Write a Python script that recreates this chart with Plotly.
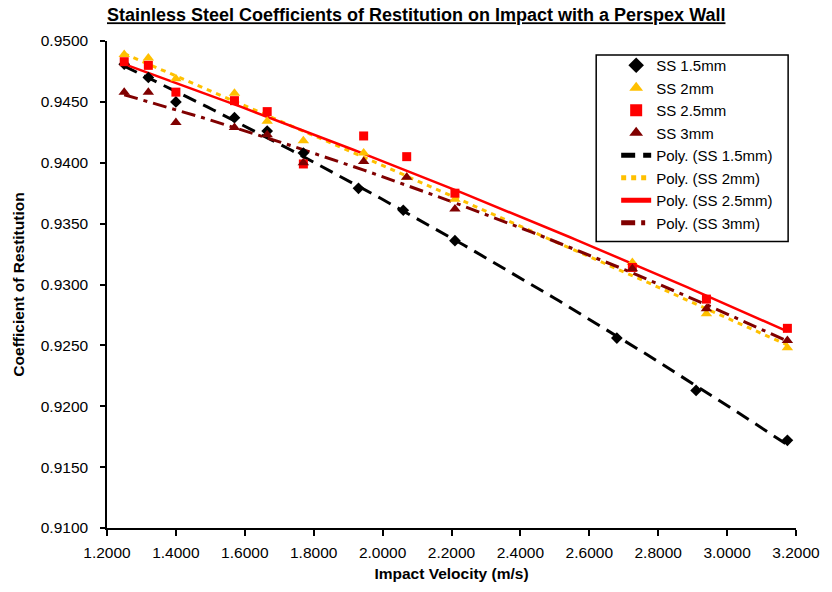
import numpy as np
import plotly.graph_objects as go

# ---- data ----
x_ss15 = [1.25, 1.32, 1.40, 1.57, 1.665, 1.77, 1.93, 2.06, 2.21, 2.68, 2.91, 3.175]
y_ss15 = [0.9481, 0.9470, 0.9450, 0.9437, 0.9426, 0.9408, 0.9379, 0.9361, 0.9336, 0.9256, 0.9213, 0.9172]

x_other = [1.25, 1.32, 1.40, 1.57, 1.665, 1.77, 1.945, 2.07, 2.21, 2.725, 2.94, 3.175]
y_ss2 = [0.9489, 0.9486, 0.9469, 0.9457, 0.9434, 0.9418, 0.9408, 0.9388, 0.9370, 0.9318, 0.9276, 0.9248]
y_ss25 = [0.9483, 0.9480, 0.9458, 0.9451, 0.9442, 0.9399, 0.9422, 0.9405, 0.9375, 0.9314, 0.9288, 0.9264]
y_ss3 = [0.9458, 0.9458, 0.9433, 0.9429, 0.9423, 0.9400, 0.9401, 0.9388, 0.9362, 0.9313, 0.9280, 0.9254]

names = ["SS 1.5mm", "SS 2mm", "SS 2.5mm", "SS 3mm"]
x_tick_vals = [1.2, 1.4, 1.6, 1.8, 2.0, 2.2, 2.4, 2.6, 2.8, 3.0, 3.2]
y_tick_vals = [0.91, 0.915, 0.92, 0.925, 0.93, 0.935, 0.94, 0.945, 0.95]

FONT = "Arial, Liberation Sans, sans-serif"
series = [
    (names[0], x_ss15, y_ss15, "black", "diamond", 9, dict(dash="14px,8px", width=3)),
    (names[1], x_other, y_ss2, "#FFC000", "triangle-up", 10, dict(dash="5px,5px", width=3)),
    (names[2], x_other, y_ss25, "#FF0000", "square", 9, dict(dash="solid", width=2.5)),
    (names[3], x_other, y_ss3, "#800000", "triangle-up", 10, dict(dash="14px,6px,4px,6px", width=3)),
]

fig = go.Figure()
# trend lines (2nd-order polynomial fits of the data, as in the original "Poly." trendlines)
for name, xs, ys, col, sym, sz, ln in series:
    c = np.polyfit(xs, ys, 2)
    xf = np.linspace(min(xs), max(xs), 120)
    yf = np.polyval(c, xf)
    fig.add_trace(go.Scatter(x=xf, y=yf, mode="lines", name="Poly. (" + name + ")",
                             line=dict(color=col, **ln), legendrank=2, hoverinfo="skip"))

for name, xs, ys, col, sym, sz, ln in series:
    fig.add_trace(go.Scatter(x=xs, y=ys, mode="markers", name=name,
                             marker=dict(symbol=sym, size=sz, color=col, line=dict(width=0)),
                             legendrank=1))

# legend frame (Excel-style box, wider than plotly's auto legend)
fig.add_shape(type="rect", xref="paper", yref="paper",
              x0=(604 - 107) / 700, x1=(799 - 107) / 700,
              y0=(529 - 242) / 488, y1=(529 - 55) / 488,
              line=dict(color="black", width=1.5), fillcolor="white", layer="above")

fig.update_layout(
    width=832, height=592,
    margin=dict(l=107, r=25, t=41, b=63),
    paper_bgcolor="white", plot_bgcolor="white",
    font=dict(family=FONT, color="black"),
    title=dict(text="<b><u>Stainless Steel Coefficients of Restitution on Impact with a Perspex Wall</u></b>",
               x=0, xref="paper", xanchor="left", y=1 - 15 / 592, yanchor="middle",
               font=dict(size=18, family=FONT, color="black")),
    legend=dict(x=0.739, y=0.9836, xanchor="left", yanchor="top",
                borderwidth=0, bgcolor="rgba(0,0,0,0)",
                font=dict(size=15, family=FONT), tracegroupgap=0, itemsizing="constant",
                traceorder="normal"),
    showlegend=True,
)
fig.update_xaxes(range=[1.2, 3.2], tickvals=x_tick_vals, tickformat=".4f",
                 showgrid=False, zeroline=False, showline=True, linecolor="black", linewidth=1.5,
                 ticks="outside", ticklen=6, tickwidth=1.5, tickcolor="black",
                 tickfont=dict(size=15.5, family=FONT), ticklabelstandoff=4,
                 title=dict(text="<b>Impact Velocity (m/s)</b>", font=dict(size=15.5, family=FONT), standoff=8))
fig.update_yaxes(range=[0.91, 0.95], tickvals=y_tick_vals, tickformat=".4f",
                 showgrid=False, zeroline=False, showline=True, linecolor="black", linewidth=1.5,
                 ticks="outside", ticklen=5, tickwidth=1.5, tickcolor="black",
                 tickfont=dict(size=15.5, family=FONT), ticklabelstandoff=9,
                 title=dict(text="<b>Coefficient of Restitution</b>", font=dict(size=15.5, family=FONT), standoff=12))

fig.write_html("out.html")
